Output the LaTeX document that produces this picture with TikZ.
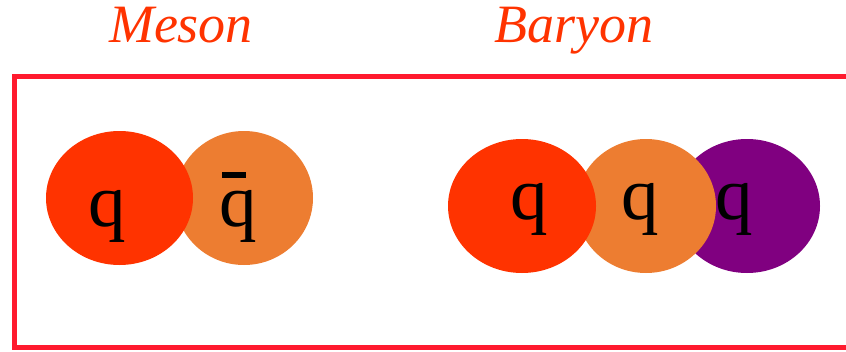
\documentclass[tikz,border=0pt]{standalone}
\usepackage{fontspec}
\setmainfont{Liberation Serif}
\usetikzlibrary{shapes.geometric}
\definecolor{quarkred}{HTML}{FF3300}
\definecolor{quarkorange}{HTML}{ED7D31}
\definecolor{quarkpurple}{HTML}{800080}
\definecolor{boxred}{HTML}{FF1A2E}
\definecolor{titlered}{HTML}{FF3300}
\newcommand{\antiq}{\rlap{\hspace{0.04em}\rule[0.64em]{0.32em}{0.08em}}q}

\begin{document}
\begin{tikzpicture}[x=1pt, y=-1pt,
  quark/.style={ellipse, minimum height=134pt, inner sep=0pt},
  flav/.style={anchor=base, inner sep=0pt, font=\fontsize{75}{80}\selectfont},
  heading/.style={anchor=base, inner sep=0pt, text=titlered, font=\fontsize{54}{60}\selectfont\itshape}]
\useasboundingbox (0,0) rectangle (846,351);

% titles
\node[heading] (mesontitle) at (181,42) {Meson};
\node[heading] (baryontitle) at (574,42) {Baryon};

% frame, open on the right
\draw[boxred, line width=5pt] (850,76.5) -- (14,76.5) -- (14,347.5) -- (850,347.5);

% meson
\node[quark, fill=quarkorange, minimum width=138pt] (m2) at (244,198) {};
\node[quark, fill=quarkred, minimum width=147pt] (m1) at (119.5,198) {};
\node[flav] (mq) at (107.5,226) {q};
\node[flav] (mqbar) at (238,226) {\antiq};

% baryon
\node[quark, fill=quarkpurple, minimum width=146pt] (b3) at (747,206) {};
\node[quark, fill=quarkorange, minimum width=140pt] (b2) at (646,206) {};
\node[quark, fill=quarkred, minimum width=148pt] (b1) at (522,206) {};
\node[flav] (bq1) at (529,219) {q};
\node[flav] (bq2) at (640,219) {q};
\node[flav] (bq3) at (734,219) {q};
\end{tikzpicture}
\end{document}
